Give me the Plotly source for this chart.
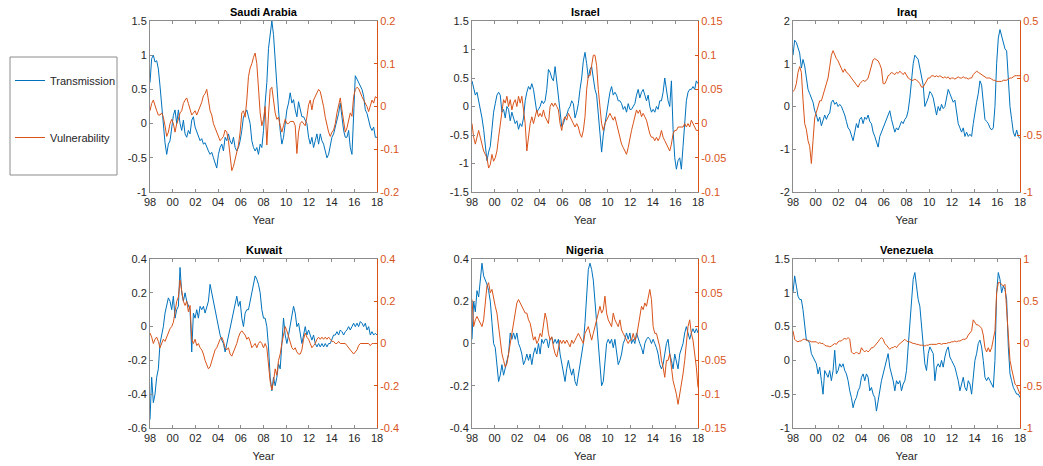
import numpy as np
import plotly.graph_objects as go

# ---------------- data ----------------
COUNTRIES = ["Saudi Arabia", "Israel", "Iraq", "Kuwait", "Nigeria", "Venezuela"]
SERIES_NAMES = ["Transmission", "Vulnerability"]
YEAR_START, YEAR_END = 1998, 2018

SA_TRANS = [0.6, 0.95, 1.0, 0.9, 0.92, 0.8, 0.55, 0.25, 0.0, -0.28,
            -0.45, -0.3, -0.25, -0.05, 0.12, 0.2, 0.0, 0.2, 0.0, -0.1,
            0.05, -0.15, -0.2, -0.1, -0.15, 0.05, 0.1, -0.05, -0.12, -0.2,
            -0.25, -0.22, -0.3, -0.28, -0.35, -0.4, -0.45, -0.42, -0.5, -0.58,
            -0.65, -0.45, -0.35, -0.3, -0.4, -0.2, -0.25, -0.15, -0.25, -0.3,
            -0.2, -0.35, -0.4, -0.35, -0.25, -0.1, 0.1, 0.15, 0.2, 0.1,
            0.0, -0.25, -0.35, -0.4, -0.35, -0.45, -0.3, -0.35, -0.1, 0.3,
            0.6, 1.1, 1.3, 1.5, 1.3, 0.9, 0.5, 0.2, -0.1, -0.3,
            -0.2, 0.0, 0.2, 0.3, 0.45, 0.3, 0.35, 0.2, 0.1, 0.32,
            0.2, 0.1, 0.1, 0.05, 0.0, -0.2, -0.3, -0.2, -0.35, -0.25,
            -0.15, -0.3, -0.15, -0.25, -0.3, -0.4, -0.5, -0.45, -0.3, -0.2,
            -0.15, -0.05, 0.05, 0.15, 0.3, 0.1, -0.1, -0.2, -0.2, -0.1,
            -0.35, -0.45, 0.2, 0.7, 0.65, 0.6, 0.55, 0.5, 0.4, 0.2,
            0.15, 0.05, -0.05, -0.1, -0.05, -0.2, -0.2]
SA_VULN = [-0.01, 0.007, 0.015, 0.0, -0.01, -0.02, -0.02, -0.015, -0.025, -0.045,
           -0.07, -0.06, -0.04, -0.03, -0.04, -0.06, -0.04, -0.03, -0.015, -0.01,
           0.007, 0.015, 0.02, 0.007, -0.01, -0.02, -0.015, -0.01, -0.02, -0.01,
           0.0, 0.01, 0.025, 0.03, 0.04, 0.015, -0.01, -0.02, -0.04, -0.05,
           -0.06, -0.07, -0.08, -0.075, -0.07, -0.055, -0.06, -0.08, -0.125, -0.15,
           -0.14, -0.125, -0.11, -0.09, -0.06, -0.015, -0.01, -0.025, 0.015, 0.07,
           0.09, 0.1, 0.115, 0.125, 0.1, 0.03, -0.015, -0.045, -0.03, 0.0,
           -0.09, -0.02, 0.04, 0.045, 0.015, -0.015, -0.03, -0.025, -0.045, -0.06,
           -0.045, -0.03, -0.04, -0.04, -0.035, -0.035, -0.035, -0.045, -0.11, -0.06,
           -0.04, -0.035, -0.04, -0.045, -0.025, 0.004, 0.015, -0.008, 0.015, 0.023,
           0.03, 0.04, 0.035, 0.02, 0.0, -0.025, -0.045, -0.06, -0.07, -0.06,
           -0.055, -0.04, -0.015, 0.0, 0.02, -0.008, -0.04, -0.06, -0.05, -0.03,
           -0.015, -0.023, 0.023, 0.04, 0.045, 0.042, 0.03, 0.023, 0.015, 0.008,
           0.0, -0.012, 0.004, 0.015, 0.008, 0.023, 0.02]

IS_TRANS = [0.45, 0.3, 0.2, 0.25, 0.1, 0.0, -0.2, -0.4, -0.7, -0.95,
            -0.8, -0.7, -0.4, -0.1, 0.05, 0.2, 0.25, 0.2, -0.1, -0.05,
            -0.2, 0.0, -0.05, -0.25, -0.1, -0.2, -0.3, -0.25, -0.4, -0.3,
            -0.35, -0.2, 0.1, 0.25, 0.35, 0.3, 0.4, 0.3, 0.05, -0.1,
            -0.05, 0.0, 0.1, 0.05, 0.1, 0.3, 0.65, 0.6, 0.5, 0.45,
            0.7, 0.45, 0.1, -0.15, -0.35, -0.3, -0.2, -0.15, -0.05, 0.0,
            0.1, 0.05, -0.2, -0.1, 0.05, 0.3, 0.5, 0.8, 0.95, 0.75,
            0.5, 0.65, 0.7, 0.5, 0.3, 0.2, -0.1, -0.5, -0.8, -0.5,
            -0.3, -0.1, 0.1, 0.25, 0.35, 0.2, 0.25, 0.2, 0.1, 0.1,
            0.05, -0.05, 0.0, -0.1, 0.05, -0.05, -0.05, 0.0, 0.05, 0.2,
            0.3, 0.15, 0.25, 0.3, 0.2, 0.1, 0.2, 0.0, -0.1, -0.05,
            -0.1, 0.0, -0.05, 0.1, 0.1, 0.25, 0.5, 0.3, 0.1, 0.0,
            0.45, -0.4, -0.9, -1.1, -0.95, -0.9, -1.1, -0.7, -0.2, 0.1,
            0.25, 0.3, 0.3, 0.35, 0.3, 0.45, 0.4]
IS_VULN = [0.0, -0.02, -0.03, -0.02, -0.01, -0.02, -0.03, -0.04, -0.045, -0.05,
           -0.065, -0.06, -0.045, -0.055, -0.05, -0.04, -0.02, 0.0, 0.02, 0.035,
           0.03, 0.04, 0.025, 0.035, 0.02, 0.03, 0.035, 0.025, 0.04, 0.03,
           0.04, 0.02, 0.0, -0.04, -0.02, 0.0, 0.01, 0.0, 0.01, 0.02,
           0.01, 0.015, 0.01, 0.02, 0.01, 0.005, 0.0, 0.025, 0.03, 0.025,
           0.03, 0.025, 0.02, 0.0, -0.01, 0.005, 0.01, 0.005, 0.015, 0.01,
           0.005, 0.0, -0.005, 0.0, -0.005, -0.015, -0.02, -0.01, 0.01, 0.05,
           0.07, 0.07, 0.085, 0.1, 0.1, 0.085, 0.05, 0.02, 0.0, -0.01,
           0.0, 0.005, 0.01, 0.015, 0.01, 0.005, 0.01, 0.0, -0.01, -0.02,
           -0.03, -0.035, -0.04, -0.045, -0.035, -0.02, -0.01, 0.0, 0.01, 0.02,
           0.015, 0.02, 0.01, 0.015, 0.01, 0.005, -0.005, -0.015, -0.02, -0.02,
           -0.025, -0.02, -0.025, -0.02, -0.01, -0.02, -0.025, -0.03, -0.035, -0.04,
           -0.03, -0.015, -0.01, -0.01, -0.005, -0.005, -0.005, -0.005, 0.0, -0.005,
           0.0, -0.005, 0.005, 0.0, -0.005, -0.01, -0.01]

IQ_TRANS = [1.2, 1.55, 1.5, 1.35, 1.25, 0.9, 1.1, 0.95, 0.7, 0.4,
            0.3, 0.2, 0.1, -0.1, -0.2, -0.35, -0.25, -0.45, -0.3, -0.2,
            -0.3, -0.2, -0.15, 0.1, 0.15, 0.05, 0.1, 0.0, 0.05, 0.0,
            -0.1, -0.2, -0.35, -0.5, -0.55, -0.7, -0.8, -0.6, -0.4, -0.5,
            -0.3, -0.25, -0.4, -0.25, -0.3, -0.2, -0.35, -0.4, -0.6, -0.7,
            -0.85, -0.95, -0.7, -0.6, -0.5, -0.4, -0.3, -0.2, -0.1, -0.3,
            -0.45, -0.6, -0.5, -0.55, -0.45, -0.35, -0.4, -0.3, -0.25, -0.1,
            0.2, 0.6, 1.0, 1.2, 1.15, 1.1, 0.9, 0.7, 0.5, 0.0,
            0.1, 0.2, 0.35, 0.3, 0.2, 0.0, -0.2, 0.0, -0.1, 0.05,
            -0.05, 0.0, 0.2, 0.4, 0.3, 0.2, 0.1, 0.15, -0.2, -0.4,
            -0.5, -0.6, -0.5, -0.7, -0.6, -0.7, -0.65, -0.7, -0.4, -0.1,
            0.1, 0.3, 0.6, 0.5, 0.0, -0.3, -0.35, -0.4, -0.5, -0.55,
            -0.5, 0.0, 1.0, 1.6, 1.8, 1.65, 1.5, 1.35, 1.3, 0.5,
            0.0, -0.3, -0.6, -0.7, -0.55, -0.7, -0.75]
IQ_VULN = [-0.12, -0.1, -0.05, 0.05, 0.1, 0.05, -0.19, -0.4, -0.45, -0.55,
           -0.6, -0.75, -0.55, -0.35, -0.3, -0.25, -0.2, -0.2, -0.15, -0.1,
           -0.05, 0.0, 0.1, 0.2, 0.24, 0.2, 0.17, 0.15, 0.12, 0.08,
           0.05, 0.08, 0.05, 0.04, 0.02, 0.0, -0.02, -0.03, -0.05, -0.08,
           -0.05, -0.03, -0.02, -0.03, -0.02, 0.0, 0.05, 0.1, 0.16, 0.17,
           0.16, 0.15, 0.12, 0.08, -0.05, -0.05, -0.02, 0.02, 0.03, 0.05,
           0.04, 0.03, 0.05, 0.04, 0.06, 0.04, 0.03, 0.05, 0.02, 0.0,
           -0.01, -0.02, -0.02, -0.01, -0.02, -0.03, -0.05, -0.08, -0.08, -0.05,
           -0.03, 0.0, 0.0, 0.02, 0.02, 0.01, 0.02, 0.01, 0.02, 0.01,
           0.0, 0.01, 0.0, 0.01, -0.01, 0.0, 0.0, -0.01, 0.0, 0.01,
           0.0, 0.0, 0.01, 0.0, 0.0, -0.01, 0.0, 0.0, 0.03, 0.05,
           0.06, 0.05, 0.04, 0.03, 0.02, 0.01, 0.0, 0.0, 0.0, -0.01,
           -0.02, -0.02, -0.03, -0.03, -0.03, -0.03, -0.02, -0.02, -0.02, -0.01,
           0.0, 0.0, 0.01, 0.02, 0.02, 0.02, 0.02]

KW_TRANS = [-0.55, -0.3, -0.45, -0.4, -0.3, -0.25, -0.1, -0.05, 0.0, 0.08,
            0.12, 0.17, 0.15, 0.1, 0.18, 0.05, 0.1, 0.12, 0.35, 0.2,
            0.15, 0.2, 0.15, 0.12, 0.1, -0.15, 0.08, 0.05, 0.1, 0.05,
            0.12, 0.1, 0.12, 0.08, 0.12, 0.15, 0.25, 0.2, 0.15, 0.1,
            0.05, -0.02, -0.05, -0.08, -0.1, -0.15, -0.1, -0.05, 0.0, 0.05,
            0.1, 0.15, 0.18, 0.12, 0.15, 0.05, 0.0, 0.08, 0.1, 0.1,
            0.15, 0.18, 0.25, 0.3, 0.28, 0.25, 0.2, 0.1, 0.05, 0.05,
            0.0, -0.12, -0.3, -0.38, -0.3, -0.35, -0.3, -0.22, -0.25, -0.1,
            0.05, -0.05, -0.1, -0.05, 0.0, 0.05, 0.12, 0.08, 0.0, 0.02,
            -0.05, -0.1, -0.05, 0.0, -0.05, -0.02, -0.05, -0.08, -0.05, -0.1,
            -0.12, -0.1, -0.12, -0.1, -0.12, -0.1, -0.12, -0.1, -0.1, -0.08,
            -0.05, -0.05, -0.03, -0.05, -0.02, -0.03, -0.05, -0.03, -0.02, 0.0,
            -0.02, 0.0, 0.02, 0.0, 0.02, 0.0, 0.03, 0.02, 0.0, 0.02,
            -0.02, 0.0, -0.05, -0.03, -0.05, -0.04, -0.05]
KW_VULN = [0.05, 0.03, 0.0, 0.02, 0.03, 0.01, -0.02, 0.0, 0.02, 0.01,
           0.03, 0.05, 0.07, 0.08, 0.1, 0.15, 0.2, 0.22, 0.3, 0.25,
           0.2, 0.18, 0.2, 0.15, 0.18, 0.02, 0.0, 0.02, -0.01, 0.0,
           -0.02, -0.03, -0.05, -0.08, -0.1, -0.12, -0.11, -0.08, -0.05, -0.03,
           -0.02, 0.0, 0.02, 0.03, 0.01, -0.02, -0.03, -0.02, -0.05, -0.06,
           -0.04, -0.02, 0.0, 0.03, 0.05, 0.06, 0.05, 0.04, 0.02, 0.03,
           0.01, -0.02, -0.01, 0.0, -0.02, 0.0, 0.01, 0.0, -0.02, 0.0,
           -0.02, -0.1, -0.18, -0.22, -0.18, -0.12, -0.15, -0.08, -0.05, 0.0,
           0.05, 0.08, 0.06, 0.03, 0.0, -0.02, -0.03, -0.02, -0.04, -0.05,
           -0.05, -0.03, 0.02, 0.05, 0.03, 0.02, 0.0, -0.02, -0.01, 0.0,
           0.02, 0.03, 0.02, 0.03, 0.02, 0.03, 0.02, 0.03, 0.02, 0.01,
           0.01, 0.0, 0.0, 0.01, 0.0, 0.0, 0.0, 0.0, -0.01, -0.02,
           -0.03, -0.04, -0.05, -0.04, -0.03, -0.01, 0.0, 0.0, 0.0, 0.0,
           0.0, 0.0, -0.01, 0.0, 0.0, 0.0, 0.0]

NG_TRANS = [0.02, 0.2, 0.15, 0.25, 0.22, 0.3, 0.38, 0.32, 0.3, 0.28,
            0.25, 0.2, 0.1, 0.0, -0.02, -0.12, -0.18, -0.15, -0.1, -0.15,
            -0.12, -0.08, -0.05, 0.05, 0.02, 0.05, 0.02, 0.05, 0.0, -0.02,
            -0.05, -0.1, -0.08, -0.05, -0.08, -0.05, -0.1, -0.05, -0.02, -0.05,
            0.0, -0.05, 0.02, 0.0, 0.02, 0.02, -0.02, 0.02, 0.03, 0.0,
            0.02, 0.0, 0.02, -0.05, -0.1, -0.15, -0.18, -0.12, -0.08, -0.12,
            -0.15, -0.12, -0.18, -0.2, -0.15, -0.1, -0.05, 0.0, 0.1, 0.25,
            0.35, 0.38, 0.35, 0.3, 0.2, 0.1, 0.0, -0.1, -0.2, -0.18,
            -0.1, 0.0, 0.02, 0.0, 0.02, -0.02, 0.02, -0.05, -0.1, -0.08,
            -0.05, 0.0, 0.02, 0.05, 0.02, 0.05, 0.0, 0.02, 0.0, 0.05,
            0.02, 0.0, -0.02, -0.05, 0.0, 0.02, 0.03, 0.02, 0.0, 0.02,
            0.0, -0.02, -0.05, -0.1, -0.12, -0.1, -0.05, 0.0, 0.02, -0.05,
            -0.08, -0.12, -0.05, -0.08, -0.12, -0.05, -0.02, 0.0, 0.05, 0.08,
            0.05, 0.02, 0.05, 0.07, 0.05, 0.07, 0.05]
NG_VULN = [0.04, 0.0, 0.01, 0.015, 0.01, 0.005, 0.0, 0.01, 0.04, 0.06,
           0.065, 0.05, 0.055, 0.04, 0.03, 0.02, 0.0, -0.02, -0.04, -0.05,
           -0.06, -0.055, -0.04, -0.03, -0.01, 0.0, 0.02, 0.035, 0.04, 0.035,
           0.03, 0.025, 0.02, 0.02, 0.01, 0.005, -0.01, -0.02, -0.015, -0.025,
           -0.02, -0.01, -0.015, 0.0, 0.02, 0.01, -0.01, -0.02, -0.015, -0.03,
           -0.04, -0.045, -0.03, -0.02, -0.025, -0.02, -0.025, -0.02, -0.025, -0.03,
           -0.02, -0.025, -0.02, -0.015, -0.01, -0.015, -0.02, -0.025, -0.01, -0.005,
           0.0, -0.01, -0.02, -0.01, 0.0, 0.01, 0.02, 0.03, 0.02, 0.025,
           0.045, 0.02, 0.01, 0.005, 0.0, 0.02, 0.01, 0.005, 0.0, 0.01,
           -0.005, -0.01, -0.015, -0.02, -0.025, -0.02, -0.02, -0.01, -0.02, -0.015,
           0.0, 0.02, 0.03, 0.025, 0.035, 0.03, 0.045, 0.055, 0.04, 0.0,
           -0.01, -0.01, -0.02, -0.03, -0.05, -0.06, -0.075, -0.05, -0.05, -0.04,
           -0.06, -0.08, -0.09, -0.1, -0.115, -0.1, -0.09, -0.07, -0.05, -0.02,
           0.0, 0.01, -0.01, -0.02, -0.04, -0.06, -0.09]

VE_TRANS = [1.0, 1.25, 1.1, 0.95, 0.9, 0.9, 0.75, 0.5, 0.3, 0.3,
            0.25, 0.1, 0.05, 0.0, -0.05, -0.2, -0.1, -0.3, -0.5, -0.15,
            -0.2, -0.25, -0.15, -0.3, -0.15, 0.15, -0.2, -0.15, -0.05, -0.1,
            -0.05, -0.15, -0.2, -0.3, -0.45, -0.55, -0.7, -0.6, -0.55, -0.45,
            -0.4, -0.25, -0.2, -0.3, -0.2, -0.25, -0.45, -0.4, -0.5, -0.55,
            -0.75, -0.6, -0.4, -0.3, -0.2, -0.1, 0.0, 0.1, -0.1, -0.2,
            -0.3, -0.45, -0.3, -0.35, -0.3, -0.45, -0.35, -0.3, -0.15, 0.2,
            0.5, 0.9, 1.2, 1.3, 1.1, 0.9, 0.8, 0.5, 0.3, -0.05,
            -0.15, 0.1, 0.2, 0.15, 0.1, -0.3, -0.1, -0.05, -0.1, 0.0,
            -0.1, 0.05, 0.15, 0.2, 0.05, 0.0, -0.05, -0.1, -0.2, -0.3,
            -0.45, -0.35, -0.25, -0.4, -0.45, -0.3, -0.35, -0.5, -0.2, 0.0,
            0.1, 0.25, 0.3, 0.2, 0.0, -0.25, -0.3, -0.25, -0.3, -0.35,
            -0.4, 0.0, 1.0, 1.3, 1.2, 1.0, 1.1, 1.05, 0.9, 0.2,
            -0.2, -0.3, -0.4, -0.45, -0.5, -0.5, -0.55]
VE_VULN = [0.15, 0.05, 0.03, 0.02, 0.03, 0.03, 0.05, 0.05, 0.04, 0.03,
           0.03, 0.02, 0.02, 0.02, 0.02, 0.0, 0.01, 0.0, 0.0, -0.02,
           -0.03, -0.03, -0.04, -0.03, -0.02, 0.0, -0.01, 0.02, 0.03, 0.03,
           0.05, 0.06, 0.05, 0.07, 0.05, -0.1, -0.12, -0.12, -0.1, -0.12,
           -0.12, -0.05, -0.08, -0.1, -0.08, -0.1, -0.08, -0.05, -0.05, -0.03,
           0.0, 0.02, 0.05, 0.07, 0.05, 0.0, -0.02, -0.05, -0.07, -0.05,
           -0.05, -0.03, -0.05, -0.02, 0.0, 0.02, 0.03, 0.05, 0.03, 0.02,
           0.02, 0.01, 0.0, 0.0, -0.01, -0.01, -0.02, -0.02, -0.02, -0.03,
           -0.02, -0.02, -0.01, -0.01, -0.01, -0.01, -0.01, 0.0, 0.0, -0.01,
           0.0, 0.0, 0.0, 0.01, 0.01, 0.02, 0.02, 0.03, 0.02, 0.03,
           0.03, 0.04, 0.05, 0.05, 0.06, 0.1, 0.12, 0.15, 0.28, 0.25,
           0.22, 0.22, 0.2, 0.18, 0.1, -0.05, -0.1, -0.05, -0.1, -0.05,
           0.05, 0.15, 0.6, 0.72, 0.72, 0.7, 0.68, 0.7, 0.4, 0.0,
           -0.2, -0.3, -0.4, -0.48, -0.5, -0.55, -0.6]

TRANS = [SA_TRANS, IS_TRANS, IQ_TRANS, KW_TRANS, NG_TRANS, VE_TRANS]
VULN = [SA_VULN, IS_VULN, IQ_VULN, KW_VULN, NG_VULN, VE_VULN]

X_TICK_VALUES = [1998, 2000, 2002, 2004, 2006, 2008, 2010, 2012, 2014, 2016, 2018]
X_TICK_LABELS = ["98", "00", "02", "04", "06", "08", "10", "12", "14", "16", "18"]

LEFT_TICKS = [[-1, -0.5, 0, 0.5, 1, 1.5],
              [-1.5, -1, -0.5, 0, 0.5, 1, 1.5],
              [-2, -1, 0, 1, 2],
              [-0.6, -0.4, -0.2, 0, 0.2, 0.4],
              [-0.4, -0.2, 0, 0.2, 0.4],
              [-1, -0.5, 0, 0.5, 1, 1.5]]
RIGHT_TICKS = [[-0.2, -0.1, 0, 0.1, 0.2],
               [-0.1, -0.05, 0, 0.05, 0.1, 0.15],
               [-1, -0.5, 0, 0.5],
               [-0.4, -0.2, 0, 0.2, 0.4],
               [-0.15, -0.1, -0.05, 0, 0.05, 0.1],
               [-1, -0.5, 0, 0.5, 1]]

# ---------------- styling ----------------
W, H = 1043, 466
BLUE = "#0072BD"
ORANGE = "#D95319"
TXT = "#262626"
AXLINE = "#8c8c8c"
FONT = "Liberation Sans, Arial, Helvetica, sans-serif"

# plot-area boxes in pixels: (left, right, top, bottom)
COL_X = [(150, 377), (472, 698), (793, 1020)]
ROW_Y = [(21, 192), (259, 428)]
LEGEND_BOX = (10, 117, 57, 175)


def fmt(v):
    return f"{v:g}"


fig = go.Figure()

for i, name in enumerate(COUNTRIES):
    r, c = divmod(i, 3)
    xl, xr = COL_X[c]
    yt, yb = ROW_Y[r]
    xdom = [xl / W, xr / W]
    ydom = [1 - yb / H, 1 - yt / H]
    xa = "x" if i == 0 else f"x{i + 1}"
    ya_l = "y" if i == 0 else f"y{i + 1}"
    ya_r = f"y{i + 7}"

    t = TRANS[i]
    v = VULN[i]
    yrs_t = np.linspace(YEAR_START, YEAR_END, len(t))
    yrs_v = np.linspace(YEAR_START, YEAR_END, len(v))

    fig.add_trace(go.Scatter(x=yrs_t, y=t, mode="lines", name=SERIES_NAMES[0],
                             line=dict(color=BLUE, width=1),
                             xaxis=xa, yaxis=ya_l, showlegend=(i == 0),
                             legendgroup="t"))
    fig.add_trace(go.Scatter(x=yrs_v, y=v, mode="lines", name=SERIES_NAMES[1],
                             line=dict(color=ORANGE, width=1),
                             xaxis=xa, yaxis=ya_r, showlegend=(i == 0),
                             legendgroup="v"))

    lt = LEFT_TICKS[i]
    rt = RIGHT_TICKS[i]
    xkey = "xaxis" if i == 0 else f"xaxis{i + 1}"
    ylkey = "yaxis" if i == 0 else f"yaxis{i + 1}"
    yrkey = f"yaxis{i + 7}"

    fig.layout[xkey] = dict(
        domain=xdom, anchor=ya_l, range=[YEAR_START, YEAR_END],
        tickmode="array", tickvals=X_TICK_VALUES, ticktext=X_TICK_LABELS,
        ticks="inside", ticklen=3, tickcolor=AXLINE, mirror="ticks",
        showline=True, linecolor=AXLINE, linewidth=1,
        showgrid=False, zeroline=False,
        tickfont=dict(family=FONT, size=11, color=TXT),
        title=dict(text="Year", font=dict(family=FONT, size=11, color=TXT), standoff=9),
        automargin=False,
    )
    fig.layout[ylkey] = dict(
        domain=ydom, anchor=xa, range=[lt[0], lt[-1]],
        tickmode="array", tickvals=lt, ticktext=[fmt(x) for x in lt],
        ticks="inside", ticklen=3, tickcolor=AXLINE,
        showline=True, linecolor=AXLINE, linewidth=1,
        showgrid=False, zeroline=False,
        tickfont=dict(family=FONT, size=11, color=TXT),
        automargin=False,
    )
    fig.layout[yrkey] = dict(
        overlaying=ya_l, side="right", anchor=xa, range=[rt[0], rt[-1]],
        tickmode="array", tickvals=rt, ticktext=[fmt(x) for x in rt],
        ticks="inside", ticklen=3, tickcolor=ORANGE,
        showline=True, linecolor=ORANGE, linewidth=1,
        showgrid=False, zeroline=False,
        tickfont=dict(family=FONT, size=11, color=ORANGE),
        automargin=False,
    )
    fig.add_annotation(text=f"<b>{name}</b>", xref="paper", yref="paper",
                       x=(xdom[0] + xdom[1]) / 2, y=ydom[1], yshift=1,
                       xanchor="center", yanchor="bottom", showarrow=False,
                       font=dict(family=FONT, size=11, color="black"))

# frame around the legend
lx0, lx1, ly0, ly1 = LEGEND_BOX
fig.add_shape(type="rect", xref="paper", yref="paper",
              x0=lx0 / W, x1=lx1 / W, y0=1 - ly1 / H, y1=1 - ly0 / H,
              line=dict(color="#8c8c8c", width=1), fillcolor="rgba(0,0,0,0)",
              layer="below")

fig.update_layout(
    template="none",
    width=W, height=H,
    margin=dict(l=0, r=0, t=0, b=0),
    paper_bgcolor="white", plot_bgcolor="white",
    font=dict(family=FONT, size=11, color=TXT),
    showlegend=True,
    legend=dict(x=10 / W, y=1 - 66 / H, xanchor="left", yanchor="top",
                bgcolor="rgba(0,0,0,0)", borderwidth=0,
                font=dict(family=FONT, size=11, color=TXT),
                tracegroupgap=38, itemwidth=30),
)

fig.write_html("out.html", config={"displayModeBar": False},
               post_script="document.body.style.margin='0';")
